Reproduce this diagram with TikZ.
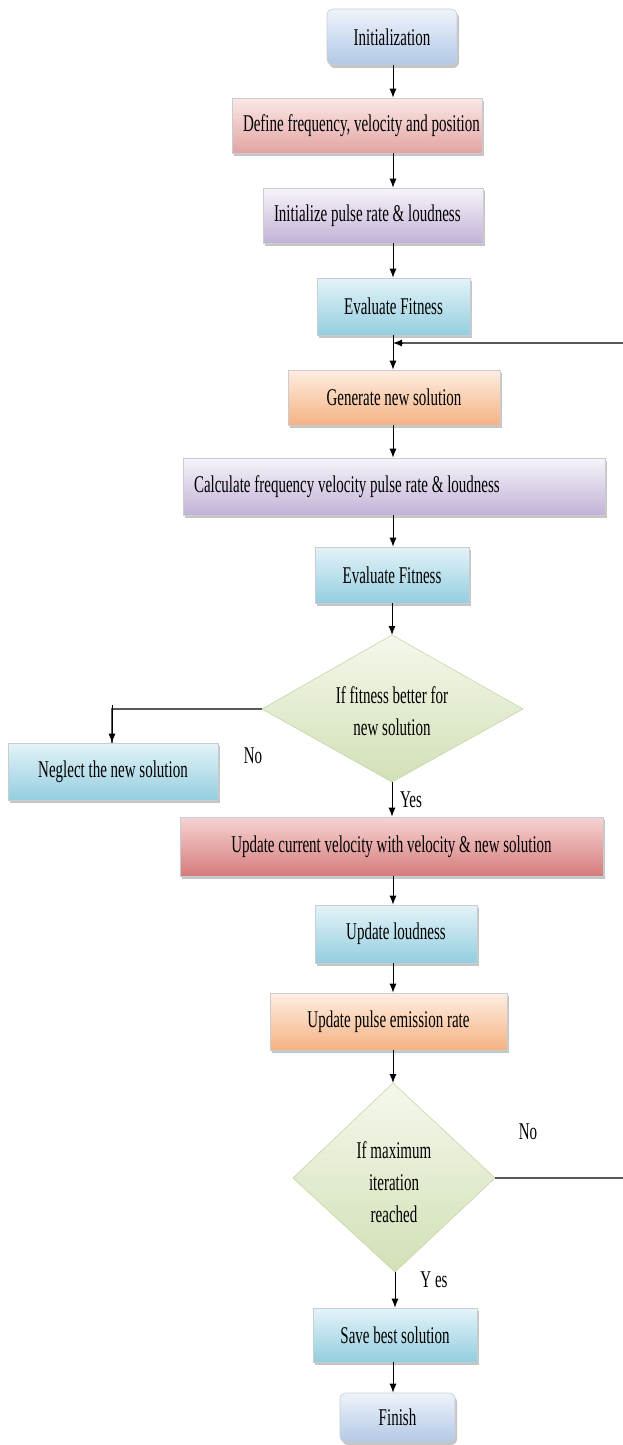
\documentclass[tikz,border=0pt]{standalone}
\usepackage{fontspec}
\setmainfont{Liberation Serif}[FakeStretch=0.625]
\usetikzlibrary{arrows.meta,shadows}
\definecolor{frame}{HTML}{C9CDD2}
\definecolor{blueT}{HTML}{EEF3FA}
\definecolor{blueB}{HTML}{B3C8E6}
\definecolor{pinkT}{HTML}{FBE8E7}
\definecolor{pinkB}{HTML}{E2A4A2}
\definecolor{lilacT}{HTML}{F7F4FA}
\definecolor{lilacB}{HTML}{C2B2D6}
\definecolor{cyanT}{HTML}{E4F3F8}
\definecolor{cyanB}{HTML}{93CEDF}
\definecolor{orngT}{HTML}{FEEEE2}
\definecolor{orngB}{HTML}{F5B283}
\definecolor{redT}{HTML}{F7D3D3}
\definecolor{redB}{HTML}{D47C7B}
\definecolor{greenT}{HTML}{F4F8EC}
\definecolor{greenB}{HTML}{D2E0B6}
\definecolor{greenE}{HTML}{C5D6A6}
% left set text, may run into the right padding
\newcommand{\lefttext}[2]{\makebox[#1][l]{#2}}
\begin{document}
\begin{tikzpicture}[
  x=1pt,y=-1pt,
  box/.style={draw=frame,line width=0.6pt,inner xsep=11pt,inner ysep=2pt,align=center,
    font=\fontsize{24}{28}\selectfont,
    drop shadow={shadow xshift=2pt,shadow yshift=-3pt,fill=black!45}},
  blue/.style={top color=blueT,bottom color=blueB,rounded corners=6pt},
  pink/.style={top color=pinkT,bottom color=pinkB},
  lilac/.style={top color=lilacT,bottom color=lilacB},
  cyan/.style={top color=cyanT,bottom color=cyanB},
  orng/.style={top color=orngT,bottom color=orngB},
  red/.style={top color=redT,bottom color=redB},
  decision/.style={top color=greenT,bottom color=greenB,draw=greenE,line width=0.6pt},
  dtext/.style={align=center,font=\fontsize{24}{32}\selectfont},
  lbl/.style={font=\fontsize{24}{28}\selectfont},
  arr/.style={line width=1pt,-{Latex[length=9pt,width=7pt]}},
  loopline/.style={line width=1.8pt,draw=black!65},
]
  \useasboundingbox (0,0) rectangle (622,1445);
  \coordinate (ax) at (393,0);

  % start and set-up
  \node[box,blue,minimum width=130pt,minimum height=56pt] (init) at (392,37) {Initialization};
  \node[box,pink,minimum height=55pt] (define) at (357,125.5) {\lefttext{228pt}{Define frequency, velocity and position}};
  \node[box,lilac,minimum height=55pt] (initpulse) at (373,215.5) {\lefttext{198pt}{Initialize pulse rate \& loudness}};
  \node[box,cyan,minimum width=153pt,minimum height=57pt] (eval1) at (393.5,306.5) {Evaluate Fitness};

  % main loop
  \node[box,orng,minimum width=212pt,minimum height=55pt] (gen) at (394,397.5) {Generate new solution};
  \node[box,lilac,minimum height=57pt] (calc) at (394,486.5) {\lefttext{400pt}{Calculate frequency velocity pulse rate \& loudness}};
  \node[box,cyan,minimum width=154pt,minimum height=56pt] (eval2) at (392,575) {Evaluate Fitness};

  % first decision
  \coordinate (d1t) at (392,635);
  \coordinate (d1r) at (523,709);
  \coordinate (d1b) at (392,782);
  \coordinate (d1l) at (262,709);
  \shade[decision] (d1t) -- (d1r) -- (d1b) -- (d1l) -- cycle;
  \node[dtext] (q1) at (392,711) {If fitness better for\\new solution};
  \node[box,cyan,minimum width=210pt,minimum height=57pt] (neglect) at (113,771.5) {Neglect the new solution};
  \coordinate (nx) at (112,0);

  % updates
  \node[box,red,minimum width=423pt,minimum height=59pt] (upcur) at (391.5,846.5) {Update current velocity with velocity \& new solution};
  \node[box,cyan,minimum width=162pt,minimum height=58pt] (uploud) at (396,934) {Update loudness};
  \node[box,orng,minimum width=237pt,minimum height=57pt] (uppulse) at (388.5,1021.5) {Update pulse emission rate};

  % second decision
  \coordinate (d2t) at (393,1083);
  \coordinate (d2r) at (495,1178);
  \coordinate (d2b) at (395,1272);
  \coordinate (d2l) at (293,1178);
  \shade[decision] (d2t) -- (d2r) -- (d2b) -- (d2l) -- cycle;
  \node[dtext] (q2) at (394,1182) {If maximum\\iteration\\reached};

  % end
  \node[box,cyan,minimum width=164pt,minimum height=54pt] (save) at (395,1335) {Save best solution};
  \node[box,blue,minimum width=115pt,minimum height=49pt] (finish) at (397.5,1417.5) {Finish};

  % connectors
  \draw[arr] (init.south -| ax) -- (define.north -| ax);
  \draw[arr] (define.south -| ax) -- (initpulse.north -| ax);
  \draw[arr] (initpulse.south -| ax) -- (eval1.north -| ax);
  \draw[arr] (eval1.south -| ax) -- (gen.north -| ax);
  \draw[arr] (gen.south -| ax) -- (calc.north -| ax);
  \draw[arr] (calc.south -| ax) -- (eval2.north -| ax);
  \draw[arr] (eval2.south -| d1t) -- (d1t);
  \draw[loopline] (d1l) -| (nx |- neglect.north);
  \draw[arr] ([yshift=4pt]nx |- d1l) -- (nx |- neglect.north);
  \draw[arr] (d1b) -- (upcur.north -| d1b);
  \draw[arr] (upcur.south -| ax) -- (uploud.north -| ax);
  \draw[arr] (uploud.south -| ax) -- (uppulse.north -| ax);
  \draw[arr] (uppulse.south -| ax) -- (d2t);
  \draw[arr] (d2b) -- (save.north -| d2b);
  \draw[arr] (save.south -| ax) -- (finish.north -| ax);

  % back to the loop
  \coordinate (fb) at (640,343);
  \draw[loopline] (d2r) -- (fb |- d2r) -- (fb) -- ([xshift=8pt]ax |- fb);
  \draw[arr] ([xshift=10pt]ax |- fb) -- (ax |- fb);

  % labels
  \node[lbl] (no1) at (253,756) {No};
  \node[lbl] (yes1) at (411,800) {Yes};
  \node[lbl] (no2) at (528,1132) {No};
  \node[lbl] (yes2) at (434,1280) {Y es};
\end{tikzpicture}
\end{document}
